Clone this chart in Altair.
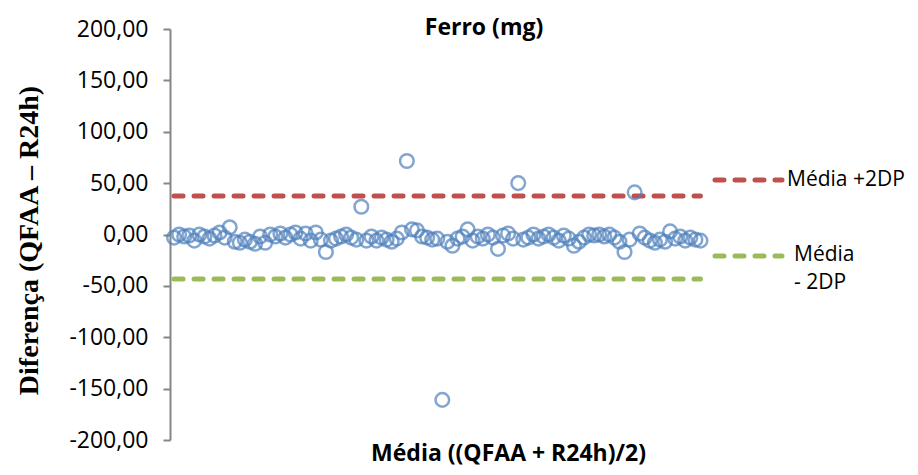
import altair as alt
import pandas as pd

# Bland-Altman style: differences (QFAA - R24h) for iron (mg)
obs_index = list(range(105))
differences = [
    -3, 0, -2, -1, -6, 0, -2, -4, -1, 2,
    -3, 7, -7, -8, -5, -7, -9, -2, -8, 0,
    -2, 1, -3, 0, 2, -4, 1, -6, 2, -5,
    -17, -6, -4, -2, 0, -3, -5, 27, -6, -2,
    -6, -3, -5, -7, -4, 2, 71.5, 5, 4, -2,
    -3, -5, -4, -161, -7, -11, -4, -2, 5, -6,
    -2, -4, 0, -3, -14, -1, 1, -4, 50, -5,
    -3, 0, -4, -2, 0, -3, -6, -1, -4, -11,
    -7, -3, 0, -1, 0, -2, 0, -3, -7, -17,
    -5, 41, 1, -3, -6, -8, -5, -7, 3, -4,
    -2, -6, -3, -5, -6,
]
y_ticks = [-200, -150, -100, -50, 0, 50, 100, 150, 200]
limit_names = ["Média +2DP", "Média - 2DP"]
limit_values = [37.5, -43.3]
limit_colors = ["#C0504D", "#9BBB59"]

df = pd.DataFrame({"x": obs_index, "d": differences})
lim = pd.DataFrame({
    "name": limit_names,
    "y": limit_values,
    "x0": [obs_index[0]] * 2,
    "x1": [obs_index[-1]] * 2,
    "color": limit_colors,
})

xscale = alt.Scale(domain=[-0.8, 104.9], nice=False, zero=False)
yscale = alt.Scale(domain=[-200, 200], nice=False)

label_expr = "replace(replace(format(datum.value, '.2f'), '.', ','), '\u2212', '-')"

points = alt.Chart(df).mark_point(
    shape="circle", filled=False, size=185, strokeWidth=2.5, color="#4F81BD", clip=False
).encode(
    x=alt.X("x:Q", scale=xscale, axis=alt.Axis(
        title="Média ((QFAA + R24h)/2)", domain=False, ticks=False, labels=False, grid=False,
        titleFont="Open Sans", titleFontSize=23, titleFontWeight="bold", titleColor="#000000",
        titleX=338, titleY=13, titleAlign="center", titleBaseline="middle",
    )),
    y=alt.Y("d:Q", scale=yscale, axis=alt.Axis(
        title="Diferença (QFAA – R24h)", values=y_ticks,
        labelExpr=label_expr, grid=False, domainColor="#868686", domainWidth=2,
        tickColor="#868686", tickWidth=2, tickSize=7,
        labelFont="Open Sans", labelFontSize=23, labelColor="#000000", labelPadding=15,
        titleFont="Liberation Serif", titleFontSize=28, titleFontWeight="bold", titleColor="#000000",
        titleX=-141, titleY=211, titleAngle=-90, titleAlign="center", titleBaseline="middle",
    )),
)

rules = alt.Chart(lim).mark_rule(strokeWidth=5, strokeDash=[9, 11], strokeCap="round").encode(
    x="x0:Q", x2="x1:Q", y=alt.Y("y:Q", scale=yscale),
    color=alt.Color("color:N", scale=None),
)

# chart title drawn as text above the plot area
title_df = pd.DataFrame({"t": ["Ferro (mg)"]})
title = alt.Chart(title_df).mark_text(
    align="center", baseline="middle", font="Open Sans", fontSize=23, fontWeight="bold",
    color="#000000", clip=False,
).encode(text="t:N", x=alt.value(314), y=alt.value(-1))

# legend-like annotations on the right
leg_lines = pd.DataFrame({"yy": [151, 227], "color": limit_colors})
leg = alt.Chart(leg_lines).mark_rule(strokeWidth=5, strokeDash=[9, 11], strokeCap="round").encode(
    x=alt.value(545), x2=alt.value(612), y=alt.Y("yy:Q", scale=None),
    color=alt.Color("color:N", scale=None),
)
leg_text = pd.DataFrame({
    "t": ["Média +2DP", "Média", "- 2DP"],
    "xx": [617, 624, 624],
    "yy": [151, 226, 254],
})
leg_t = alt.Chart(leg_text).mark_text(
    align="left", baseline="middle", font="Open Sans", fontSize=21, color="#000000"
).encode(text="t:N", x=alt.X("xx:Q", scale=None), y=alt.Y("yy:Q", scale=None))

chart = alt.layer(rules, points, leg, leg_t, title).properties(
    width=535, height=411,
    autosize=alt.AutoSizeParams(type="none"),
    padding={"left": 162, "top": 21, "right": 205, "bottom": 27},
).configure_view(stroke=None)

chart.save("out.html", embed_options={"renderer": "svg", "actions": False})
